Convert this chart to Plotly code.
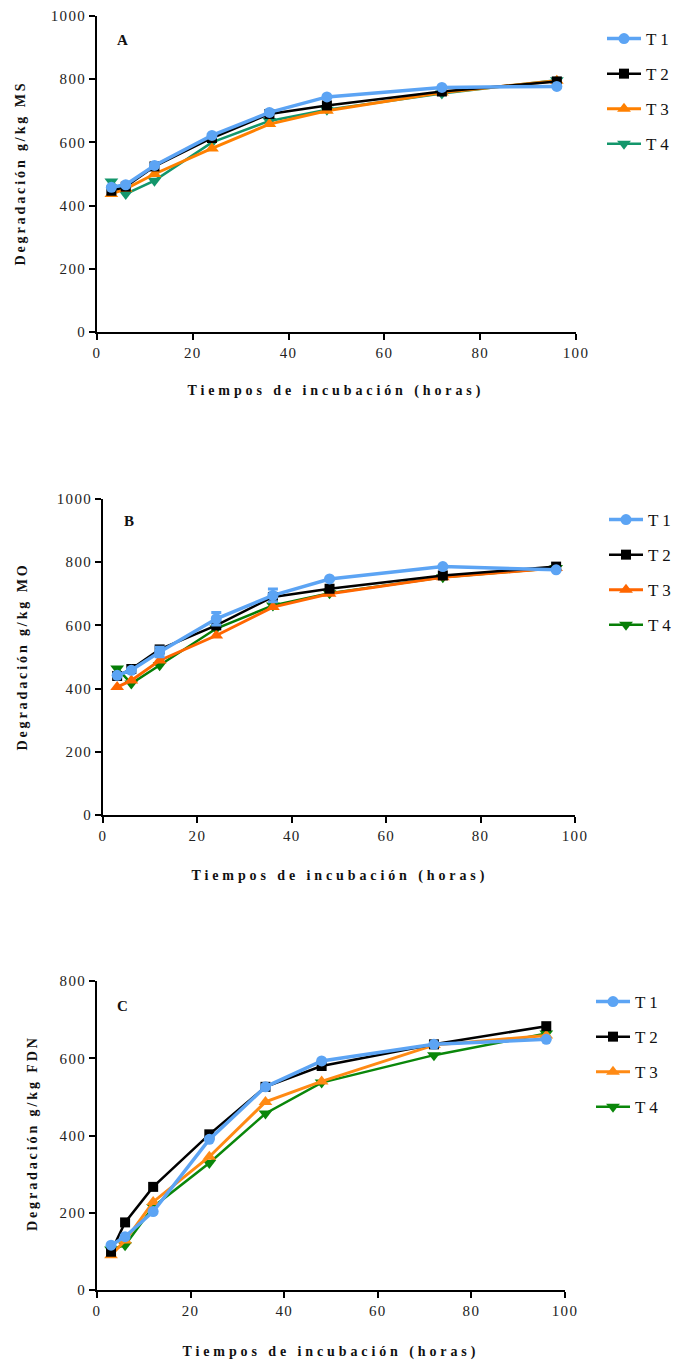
import plotly.graph_objects as go

W, H = 689, 1365

hours = [3, 6, 12, 24, 36, 48, 72, 96]
names = ["T 1", "T 2", "T 3", "T 4"]

# Panel A: Degradación g/kg MS
a_t1 = [458, 466, 527, 622, 695, 744, 774, 777]
a_t2 = [447, 460, 524, 614, 690, 717, 761, 793]
a_t3 = [437, 453, 500, 581, 658, 700, 758, 795]
a_t4 = [476, 437, 479, 600, 668, 703, 755, 797]

# Panel B: Degradación g/kg MO
b_t1 = [442, 458, 516, 621, 695, 747, 786, 776]
b_t2 = [440, 462, 524, 600, 690, 716, 758, 786]
b_t3 = [405, 426, 489, 568, 658, 700, 752, 782]
b_t4 = [464, 416, 474, 590, 663, 702, 752, 782]
b_t1_err = [0, 0, 15, 20, 20, 0, 0, 0]

# Panel C: Degradación g/kg FDN
c_t1 = [116, 138, 203, 390, 526, 593, 636, 649]
c_t2 = [99, 175, 267, 403, 526, 580, 636, 683]
c_t3 = [90, 128, 228, 345, 487, 540, 634, 659]
c_t4 = [105, 116, 215, 329, 457, 537, 608, 664]

x_ticks = [0, 20, 40, 60, 80, 100]
yA_ticks = [0, 200, 400, 600, 800, 1000]
yC_ticks = [0, 200, 400, 600, 800]

x_title = "Tiempos de incubación (horas)"
y_titles = ["Degradación g/kg MS", "Degradación g/kg MO", "Degradación g/kg FDN"]
panel_labels = ["A", "B", "C"]

BLUE = "#5CA4F4"
BLACK = "#000000"
colors = {
    "A": [BLUE, BLACK, "#FF8000", "#13966B"],
    "B": [BLUE, BLACK, "#FF6600", "#067E06"],
    "C": [BLUE, BLACK, "#FF8A14", "#0A870A"],
}
symbols = ["circle", "square", "triangle-up", "triangle-down"]
msizes = [11, 10, 12, 12]
lwidths = [3.5, 2.5, 3, 2.5]

SERIF = "Liberation Serif, Times New Roman, serif"


def fx(px):
    return px / W


def fy(py):
    return 1 - py / H


# pixel geometry of plotting areas: (x0, x1, ytop, ybottom)
geo = {
    "A": (97, 576, 16, 332),
    "B": (103, 575, 499, 815),
    "C": (97, 565, 981, 1290),
}

fig = go.Figure()

panels = [
    ("A", [a_t1, a_t2, a_t3, a_t4], "x", "y", "legend", [0, 1000], yA_ticks),
    ("B", [b_t1, b_t2, b_t3, b_t4], "x2", "y2", "legend2", [0, 1000], yA_ticks),
    ("C", [c_t1, c_t2, c_t3, c_t4], "x3", "y3", "legend3", [0, 800], yC_ticks),
]

for key, series, xa, ya, leg, yr, yt in panels:
    for i in [3, 2, 1, 0]:
        err = None
        if key == "B" and i == 0:
            err = dict(type="data", array=b_t1_err, visible=True,
                       color=BLUE, thickness=3, width=5)
        fig.add_trace(go.Scatter(
            x=hours, y=series[i], name=names[i], mode="lines+markers",
            line=dict(color=colors[key][i], width=lwidths[i]),
            marker=dict(symbol=symbols[i], size=msizes[i], color=colors[key][i],
                        line=dict(width=0)),
            error_y=err,
            xaxis=xa, yaxis=ya, legend=leg, legendrank=i + 1,
            legendgroup=key + names[i], cliponaxis=False,
        ))

axis_common = dict(
    showgrid=False, zeroline=False, showline=True, linecolor="black", linewidth=2,
    ticks="outside", ticklen=6, tickwidth=2, tickcolor="black",
    tickfont=dict(family=SERIF, size=15, color="#222"),
)

layout = dict(
    width=W, height=H, margin=dict(l=0, r=0, t=0, b=0, autoexpand=False),
    paper_bgcolor="white", plot_bgcolor="white", showlegend=True,
)

for idx, (key, series, xa, ya, leg, yr, yt) in enumerate(panels):
    x0, x1, yt0, yb0 = geo[key]
    xname = "xaxis" if idx == 0 else f"xaxis{idx + 1}"
    yname = "yaxis" if idx == 0 else f"yaxis{idx + 1}"
    layout[xname] = dict(axis_common, domain=[fx(x0), fx(x1)], range=[0, 100],
                         tickvals=x_ticks, anchor=ya, automargin=False)
    layout[yname] = dict(axis_common, domain=[fy(yb0), fy(yt0)], range=yr,
                         tickvals=yt, anchor=xa, automargin=False)

legend_pos = {"legend": (602, 21), "legend2": (604, 502), "legend3": (591, 984)}
for leg, (px, py) in legend_pos.items():
    layout[leg] = dict(
        x=fx(px), y=fy(py), xanchor="left", yanchor="top",
        font=dict(family=SERIF, size=17, color="#111"),
        bgcolor="rgba(0,0,0,0)", tracegroupgap=10, itemwidth=34,
        traceorder="grouped",
    )

fig.update_layout(**layout)

# axis titles & panel labels
title_font = dict(family=SERIF, size=14, color="#111")
xt_pos = [(336, 391), (340, 876), (331, 1352)]
yt_pos = [(20, 173), (22, 657), (32, 1133)]
lab_pos = [(122, 40), (129, 521), (122, 1006)]
for i in range(3):
    fig.add_annotation(text="<b>" + x_title + "</b>", x=fx(xt_pos[i][0]), y=fy(xt_pos[i][1]),
                       xref="paper", yref="paper", showarrow=False, font=title_font,
                       xanchor="center", yanchor="middle", name="xtitle")
    fig.add_annotation(text="<b>" + y_titles[i] + "</b>", x=fx(yt_pos[i][0]), y=fy(yt_pos[i][1]),
                       xref="paper", yref="paper", showarrow=False, font=title_font,
                       textangle=-90, xanchor="center", yanchor="middle", name="ytitle")
    fig.add_annotation(text="<b>" + panel_labels[i] + "</b>", x=fx(lab_pos[i][0]), y=fy(lab_pos[i][1]),
                       xref="paper", yref="paper", showarrow=False,
                       font=dict(family=SERIF, size=15, color="#111"),
                       xanchor="center", yanchor="middle")

post = """
document.body.style.margin = '0';
document.body.style.padding = '0';
var gd = document.getElementById('{plot_id}');
function sp(){
  gd.querySelectorAll('.annotation-text').forEach(function(t){
    var s = t.textContent;
    if (s.indexOf('Tiempos') === 0) { t.style.letterSpacing = '3.9px'; }
    else if (s.indexOf('Degrad') === 0) { t.style.letterSpacing = '2.9px'; }
  });
  gd.querySelectorAll('.xtick text, .ytick text, .x2tick text, .y2tick text, .x3tick text, .y3tick text').forEach(function(t){
    t.style.letterSpacing = '1.3px';
  });
}
sp();
gd.on('plotly_afterplot', sp);
setTimeout(sp, 50); setTimeout(sp, 300); setTimeout(sp, 1000);
"""

fig.write_html("out.html", post_script=post, config={"displayModeBar": False})
